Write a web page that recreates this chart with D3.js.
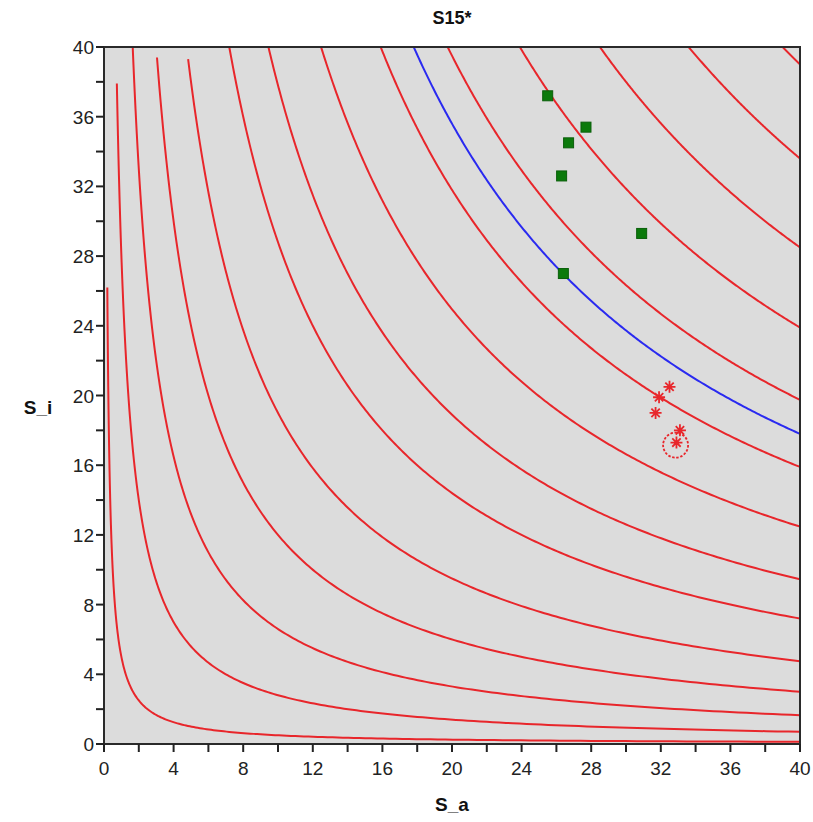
<!DOCTYPE html>
<html>
<head>
<meta charset="utf-8">
<script src="https://cdn.jsdelivr.net/npm/d3@7"></script>
<style>
  html, body { margin: 0; padding: 0; background: #ffffff; }
  svg { display: block; }
  text { font-family: "Liberation Sans", Arial, sans-serif; }
</style>
</head>
<body>
<svg id="chart" width="813" height="822"></svg>
<script>
// Iso-product levels (S_a * S_i) of the contour curves, low to high
const contourLevels = [5, 28, 66, 120, 190, 288, 378, 499, 636, 790, 956, 1140, 1344, 1560];
// Highest S_i where each contour starts (curves that do not reach the top edge)
const contourTops   = [26.2, 37.9, 40, 39.4, 39.3, 40, 40, 40, 40, 40, 40, 40, 40, 40];
// Highlighted reference level
const blueLevel = 712;

// Green square observations [S_a, S_i]
const squaresSa = [25.5, 27.7, 26.7, 26.3, 30.9, 26.4];
const squaresSi = [37.2, 35.4, 34.5, 32.6, 29.3, 27.0];

// Red star observations [S_a, S_i]
const starsSa = [32.5, 31.9, 31.7, 33.1, 32.9];
const starsSi = [20.5, 19.9, 19.0, 18.0, 17.3];

// Circled point
const circleSa = 32.85;
const circleSi = 17.15;

const majorTicks = [0, 4, 8, 12, 16, 20, 24, 28, 32, 36, 40];
const minorTicks = [2, 6, 10, 14, 18, 22, 26, 30, 34, 38];

const svg = d3.select("#chart");
const x = d3.scaleLinear().domain([0, 40]).range([104, 800]);
const y = d3.scaleLinear().domain([0, 40]).range([744, 47]);

// plot background
svg.append("rect")
  .attr("x", x(0)).attr("y", y(40))
  .attr("width", x(40) - x(0)).attr("height", y(0) - y(40))
  .attr("fill", "#dcdcdc");

svg.append("clipPath").attr("id", "plotClip")
  .append("rect")
  .attr("x", x(0)).attr("y", y(40))
  .attr("width", x(40) - x(0)).attr("height", y(0) - y(40));

const plot = svg.append("g").attr("clip-path", "url(#plotClip)");

// points along S_a * S_i = c, from the top limit to the right edge
function contourPoints(c, top) {
  const x0 = c / top, x1 = 40;
  const n = 240;
  const pts = [];
  for (let i = 0; i <= n; i++) {
    const sa = Math.exp(Math.log(x0) + (Math.log(x1) - Math.log(x0)) * i / n);
    pts.push([sa, c / sa]);
  }
  return pts;
}

const line = d3.line().x(d => x(d[0])).y(d => y(d[1]));

plot.selectAll("path.contour")
  .data(contourLevels.map((c, i) => contourPoints(c, contourTops[i])))
  .join("path")
  .attr("class", "contour")
  .attr("d", line)
  .attr("fill", "none")
  .attr("stroke", "#e8262b")
  .attr("stroke-width", 2);

plot.append("path")
  .attr("d", line(contourPoints(blueLevel, 40)))
  .attr("fill", "none")
  .attr("stroke", "#2a2af0")
  .attr("stroke-width", 2);

// green squares
const sq = 10;
plot.selectAll("rect.obs")
  .data(squaresSa.map((s, i) => [s, squaresSi[i]]))
  .join("rect")
  .attr("class", "obs")
  .attr("x", d => x(d[0]) - sq / 2)
  .attr("y", d => y(d[1]) - sq / 2)
  .attr("width", sq).attr("height", sq)
  .attr("fill", "#0b7a0b")
  .attr("stroke", "#0a5f0a")
  .attr("stroke-width", 1);

// red asterisks
const r = 6;
const starPath = "M" + (-r) + ",0H" + r + "M0," + (-r) + "V" + r +
  "M" + (-r * 0.7) + "," + (-r * 0.7) + "L" + (r * 0.7) + "," + (r * 0.7) +
  "M" + (-r * 0.7) + "," + (r * 0.7) + "L" + (r * 0.7) + "," + (-r * 0.7);
plot.selectAll("path.star")
  .data(starsSa.map((s, i) => [s, starsSi[i]]))
  .join("path")
  .attr("class", "star")
  .attr("transform", d => `translate(${x(d[0])},${y(d[1])})`)
  .attr("d", starPath)
  .attr("fill", "none")
  .attr("stroke", "#e8262b")
  .attr("stroke-width", 1.8);

plot.append("circle")
  .attr("cx", x(circleSa)).attr("cy", y(circleSi))
  .attr("r", 12.5)
  .attr("fill", "none")
  .attr("stroke", "#e8262b")
  .attr("stroke-width", 1.8)
  .attr("stroke-dasharray", "2.5,1.6");

// frame
svg.append("rect")
  .attr("x", x(0)).attr("y", y(40))
  .attr("width", x(40) - x(0)).attr("height", y(0) - y(40))
  .attr("fill", "none")
  .attr("stroke", "#2a2a2a")
  .attr("stroke-width", 2);

// axes
const tickLen = 8;
const xAxis = svg.append("g");
xAxis.selectAll("line").data(majorTicks.concat(minorTicks)).join("line")
  .attr("x1", d => x(d)).attr("x2", d => x(d))
  .attr("y1", y(0)).attr("y2", y(0) + tickLen)
  .attr("stroke", "#222").attr("stroke-width", 2);
xAxis.selectAll("text").data(majorTicks).join("text")
  .attr("x", d => x(d)).attr("y", y(0) + 31)
  .attr("text-anchor", "middle")
  .attr("font-size", 19)
  .attr("fill", "#222")
  .text(d => d);

const yAxis = svg.append("g");
yAxis.selectAll("line").data(majorTicks.concat(minorTicks)).join("line")
  .attr("x1", x(0) - tickLen).attr("x2", x(0))
  .attr("y1", d => y(d)).attr("y2", d => y(d))
  .attr("stroke", "#222").attr("stroke-width", 2);
yAxis.selectAll("text").data(majorTicks).join("text")
  .attr("x", x(0) - 10).attr("y", d => y(d) + 7)
  .attr("text-anchor", "end")
  .attr("font-size", 19)
  .attr("fill", "#222")
  .text(d => d);

// titles
svg.append("text")
  .attr("x", 452).attr("y", 24)
  .attr("text-anchor", "middle")
  .attr("font-size", 18).attr("font-weight", "bold")
  .attr("fill", "#111")
  .text("S15*");

svg.append("text")
  .attr("x", 452).attr("y", 811)
  .attr("text-anchor", "middle")
  .attr("font-size", 19).attr("font-weight", "bold")
  .attr("fill", "#111")
  .text("S_a");

svg.append("text")
  .attr("x", 38).attr("y", 414)
  .attr("text-anchor", "middle")
  .attr("font-size", 19).attr("font-weight", "bold")
  .attr("fill", "#111")
  .text("S_i");
</script>
</body>
</html>
